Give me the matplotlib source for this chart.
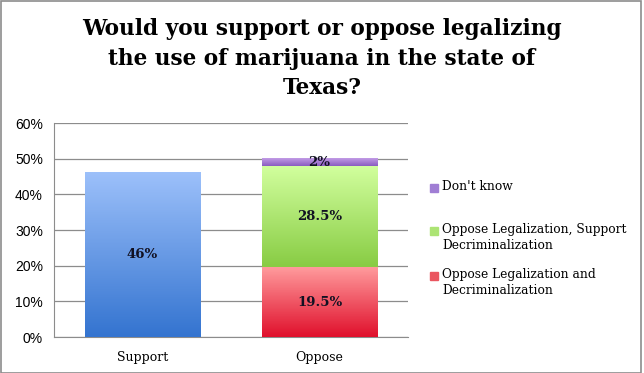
import numpy as np
import matplotlib.pyplot as plt
from matplotlib.colors import LinearSegmentedColormap
from matplotlib.patches import Rectangle

categories = ["Support", "Oppose"]
support_vals = [46, 0]
oppose_both = [0, 19.5]
oppose_legal_only = [0, 28.5]
dont_know = [0, 2]
labels = ["Don't know", "Oppose Legalization, Support\nDecriminalization",
          "Oppose Legalization and\nDecriminalization"]
yticks = [0, 10, 20, 30, 40, 50, 60]

# gradient colours (top, bottom)
blue = ("#9cc0fa", "#3474d0")
red = ("#ff9a9c", "#e0102c")
green = ("#d2ff9e", "#88cc44")
purple = ("#c29be6", "#8a5cc0")
legend_cols = ["#a07ed4", "#ace474", "#ea5660"]

serif = "DejaVu Serif"


def grad_bars(ax, bars, cols):
    cmap = LinearSegmentedColormap.from_list("g", [cols[1], cols[0]])
    for b in bars:
        if b.get_height() == 0:
            continue
        x0, y0 = b.get_x(), b.get_y()
        img = np.linspace(0, 1, 100).reshape(-1, 1)
        ax.imshow(img, cmap=cmap, origin="lower", aspect="auto",
                  extent=(x0, x0 + b.get_width(), y0, y0 + b.get_height()), zorder=3)
        b.set_visible(False)


def main():
    fig = plt.figure(figsize=(6.44, 3.73), dpi=100)
    ax = fig.add_axes([0.0839, 0.0965, 0.5497, 0.5737])
    x = np.arange(len(categories)) + 0.5
    w = 0.65

    b1 = ax.bar(x, support_vals, w)
    b2 = ax.bar(x, oppose_both, w)
    b3 = ax.bar(x, oppose_legal_only, w, bottom=oppose_both)
    bottom3 = np.array(oppose_both) + np.array(oppose_legal_only)
    b4 = ax.bar(x, dont_know, w, bottom=bottom3)
    for bars, cols in [(b1, blue), (b2, red), (b3, green), (b4, purple)]:
        grad_bars(ax, bars, cols)

    # value labels
    for bars, vals in [(b1, support_vals), (b2, oppose_both), (b3, oppose_legal_only), (b4, dont_know)]:
        for b, v in zip(bars, vals):
            if v == 0:
                continue
            ax.text(b.get_x() + b.get_width() / 2, b.get_y() + b.get_height() / 2,
                    f"{v:g}%", ha="center", va="center", fontsize=9.5,
                    fontweight="bold", family=serif, color="#111122", zorder=5)

    ax.set_xlim(0, 2)
    ax.set_ylim(0, 60)
    ax.set_yticks(yticks)
    ax.set_yticklabels([f"{t}%" for t in yticks], family="Liberation Sans", fontsize=10)
    ax.set_xticks(x)
    ax.set_xticklabels(categories, family=serif, fontsize=9)
    ax.tick_params(length=0, pad=8)
    ax.tick_params(axis="x", pad=10)
    ax.grid(axis="y", color="#8c8c8c", lw=0.9, zorder=0)
    ax.set_axisbelow(True)
    for s in ["top", "right"]:
        ax.spines[s].set_visible(False)
    for s in ["left", "bottom"]:
        ax.spines[s].set_color("#8c8c8c")

    fig.text(0.5, 1 - 58.5 / 373, "Would you support or oppose legalizing\nthe use of marijuana in the state of\nTexas?",
             ha="center", va="center", fontsize=15.6, fontweight="bold", family=serif,
             linespacing=1.43)

    # legend
    W, H = 644, 373
    leg_y = [188, 231, 276]
    for yc, lab, c in zip(leg_y, labels, legend_cols):
        fig.patches.append(Rectangle((430 / W, 1 - (yc + 4) / H), 8 / W, 8 / H,
                                     transform=fig.transFigure, color=c))
        fig.text(442 / W, 1 - (yc - 8) / H, lab, ha="left", va="top", fontsize=8.8,
                 family=serif, linespacing=1.3)

    fig.patches.append(Rectangle((0.002, 0.0), 0.994, 0.998, transform=fig.transFigure,
                                 fill=False, edgecolor="#8c8c8c", lw=1.2))
    fig.savefig("out.png", dpi=100)


if __name__ == "__main__":
    main()
